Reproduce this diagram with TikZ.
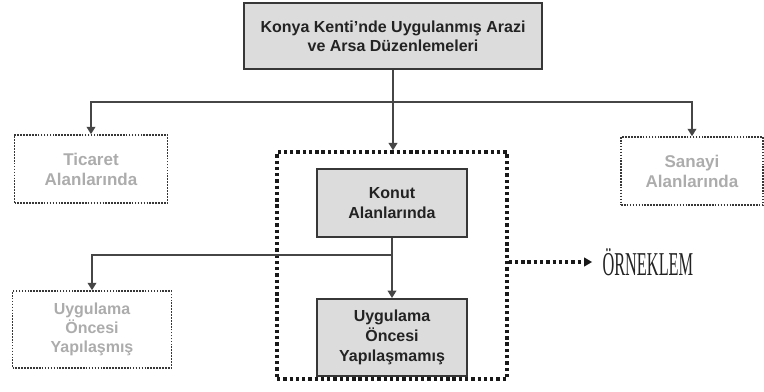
\documentclass[tikz,border=0pt]{standalone}
\usepackage{fontspec}
\setsansfont{Liberation Sans}
\newfontfamily\ornfont{Liberation Serif}
\usetikzlibrary{arrows.meta}

\definecolor{boxfill}{RGB}{220,220,220}
\definecolor{boxline}{RGB}{55,55,55}
\definecolor{paletext}{RGB}{172,172,172}
\definecolor{darktext}{RGB}{35,35,35}
\definecolor{arrowline}{RGB}{70,70,70}

\tikzset{every picture/.style={line width=0.75pt}}
\tikzset{
  mainbox/.style={draw=boxline, fill=boxfill, line width=1.5pt, align=center, text=darktext,
    font=\sffamily\bfseries\fontsize{12}{14.5}\selectfont, inner sep=0pt},
  palebox/.style={draw=boxline, densely dotted, line width=1.2pt, align=center, text=paletext,
    font=\sffamily\bfseries\fontsize{12}{14.5}\selectfont, inner sep=0pt},
  bigdots/.style={draw=black!90, line width=2.5pt, dash pattern=on 2.5pt off 2.2pt},
  link/.style={draw=arrowline, line width=1.1pt, -{Triangle[width=6.5pt,length=5.5pt]}}
}

\begin{document}
\begin{tikzpicture}[x=0.75pt,y=0.75pt,yscale=-1,xscale=1]
\path (0,0) rectangle (764,392); %set diagram to 764 x 392

%Shape: Rectangle [title]
\node[mainbox, minimum width=223.5pt, minimum height=49.5pt] (title) at (393,36)
  {Konya Kenti’nde Uygulanmış Arazi\\ve Arsa Düzenlemeleri};

%Shape: Rectangle [dotted, pale]
\node[palebox, minimum width=114.75pt, minimum height=51pt, font=\sffamily\bfseries\fontsize{12.75}{15}\selectfont] (ticaret) at (91,169) {Ticaret\\Alanlarında};
\node[palebox, minimum width=106.5pt, minimum height=51pt, font=\sffamily\bfseries\fontsize{12.75}{15}\selectfont] (sanayi) at (692,171) {Sanayi\\Alanlarında};
\node[palebox, minimum width=119.25pt, minimum height=57.75pt] (yapilasmis) at (92,329.5) {Uygulama\\Öncesi\\Yapılaşmış};

%Shape: Rectangle [sample frame]
\node[bigdots, minimum width=172.5pt, minimum height=170.25pt] (frame) at (392,265.5) {};

%Shape: Rectangle [inside frame]
\node[mainbox, minimum width=112.5pt, minimum height=51pt] (konut) at (392,203) {Konut\\Alanlarında};
\node[mainbox, minimum width=112.5pt, minimum height=57.75pt, font=\sffamily\bfseries\fontsize{12}{15}\selectfont] (yapilasmamis) at (392,337.5) {Uygulama\\Öncesi\\Yapılaşmamış};

%Text Node
\node[text=darktext, anchor=west, inner sep=0pt] (orneklem) at (602,262) {\ornfont\fontsize{25}{25}\selectfont\scalebox{0.49}[1]{ÖRNEKLEM}};

%Straight Lines
\coordinate (fork) at (393,102);
\coordinate (split) at (392,255);
\draw[arrowline, line width=1.1pt] (title.south -| fork) -- (fork);
\draw[link] (fork) -| (ticaret.north);
\draw[link] (fork) -| (sanayi.north);
\draw[link] (fork) -- (frame.north -| fork);
\draw[link] (konut.south) -- (yapilasmamis.north);
\draw[link] (split) -| (yapilasmis.north);

%Dotted arrow
\draw[bigdots, -{Triangle[width=7pt,length=6pt,line width=0pt]}] (frame.east |- orneklem.west) -- ([xshift=-7.5pt]orneklem.west);

\end{tikzpicture}
\end{document}
